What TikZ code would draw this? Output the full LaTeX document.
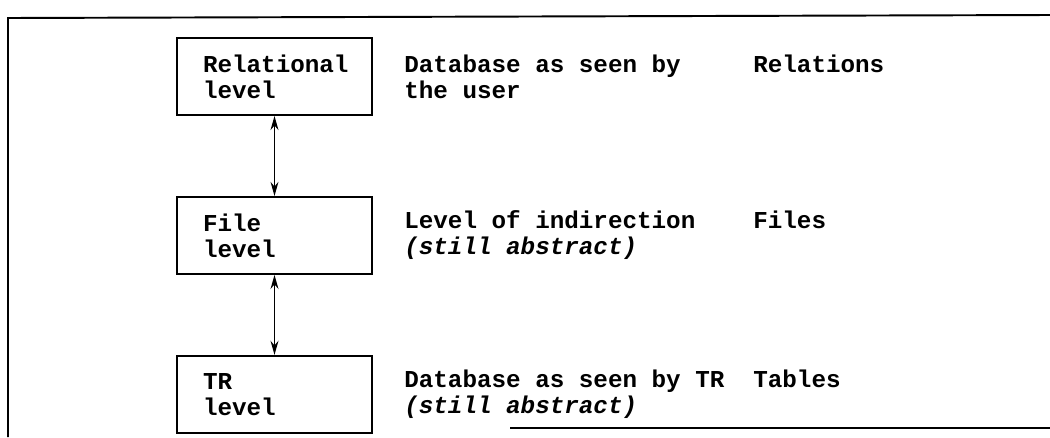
\documentclass[tikz,border=0pt]{standalone}
\usepackage{fontspec}
\setmainfont{Liberation Mono}
\usepackage{tikz}
\usetikzlibrary{positioning, arrows.meta}

\begin{document}
\begin{tikzpicture}[
    node distance=1.6 cm and 0.62 cm,
    every node/.style={
        align=left,
        font=\fontsize{13.8pt}{14.8pt}\selectfont\bfseries
    },
    levelbox/.style={draw, line width=1.1pt, minimum width=3.9cm, minimum height=1.54cm,
        text width=2.86cm, inner xsep=0.52cm},
    descnode/.style={inner sep=0pt},
    kindnode/.style={inner sep=0pt, anchor=north west},
    arrow/.style={{Stealth[length=8pt,width=4.5pt]}-{Stealth[length=8pt,width=4.5pt]}, line width=0.9pt}
]
\useasboundingbox (0,0) rectangle (21,-8.74);
% frame of the figure
\draw[line width=1.1pt] (0.16,-8.74) -- (0.16,-0.36) -- (21,-0.3);
\draw[line width=1.1pt] (10.2,-8.56) -- (21,-8.56);
% the three levels
\node[levelbox] (rel_level) at (5.49,-1.53) {Relational\\level};
\node[levelbox] (file_level) [below=of rel_level] {File\\level};
\node[levelbox] (tr_level) [below=of file_level] {TR\\level};
\node[descnode] (rel_desc) [right=of rel_level] {Database as seen by\\the user};
\node[descnode] (file_desc) [right=of file_level] {Level of indirection\\\itshape(still abstract)};
\node[descnode] (tr_desc) [right=of tr_level] {Database as seen by TR\\\itshape(still abstract)};
\node[kindnode] (relations) at ([xshift=6.98cm]rel_desc.north west) {Relations};
\node[kindnode] (files) at ([xshift=6.98cm]file_desc.north west) {Files};
\node[kindnode] (tables) at ([xshift=6.98cm]tr_desc.north west) {Tables};
\draw[arrow] (rel_level) -- (file_level);
\draw[arrow] (file_level) -- (tr_level);
\end{tikzpicture}
\end{document}
